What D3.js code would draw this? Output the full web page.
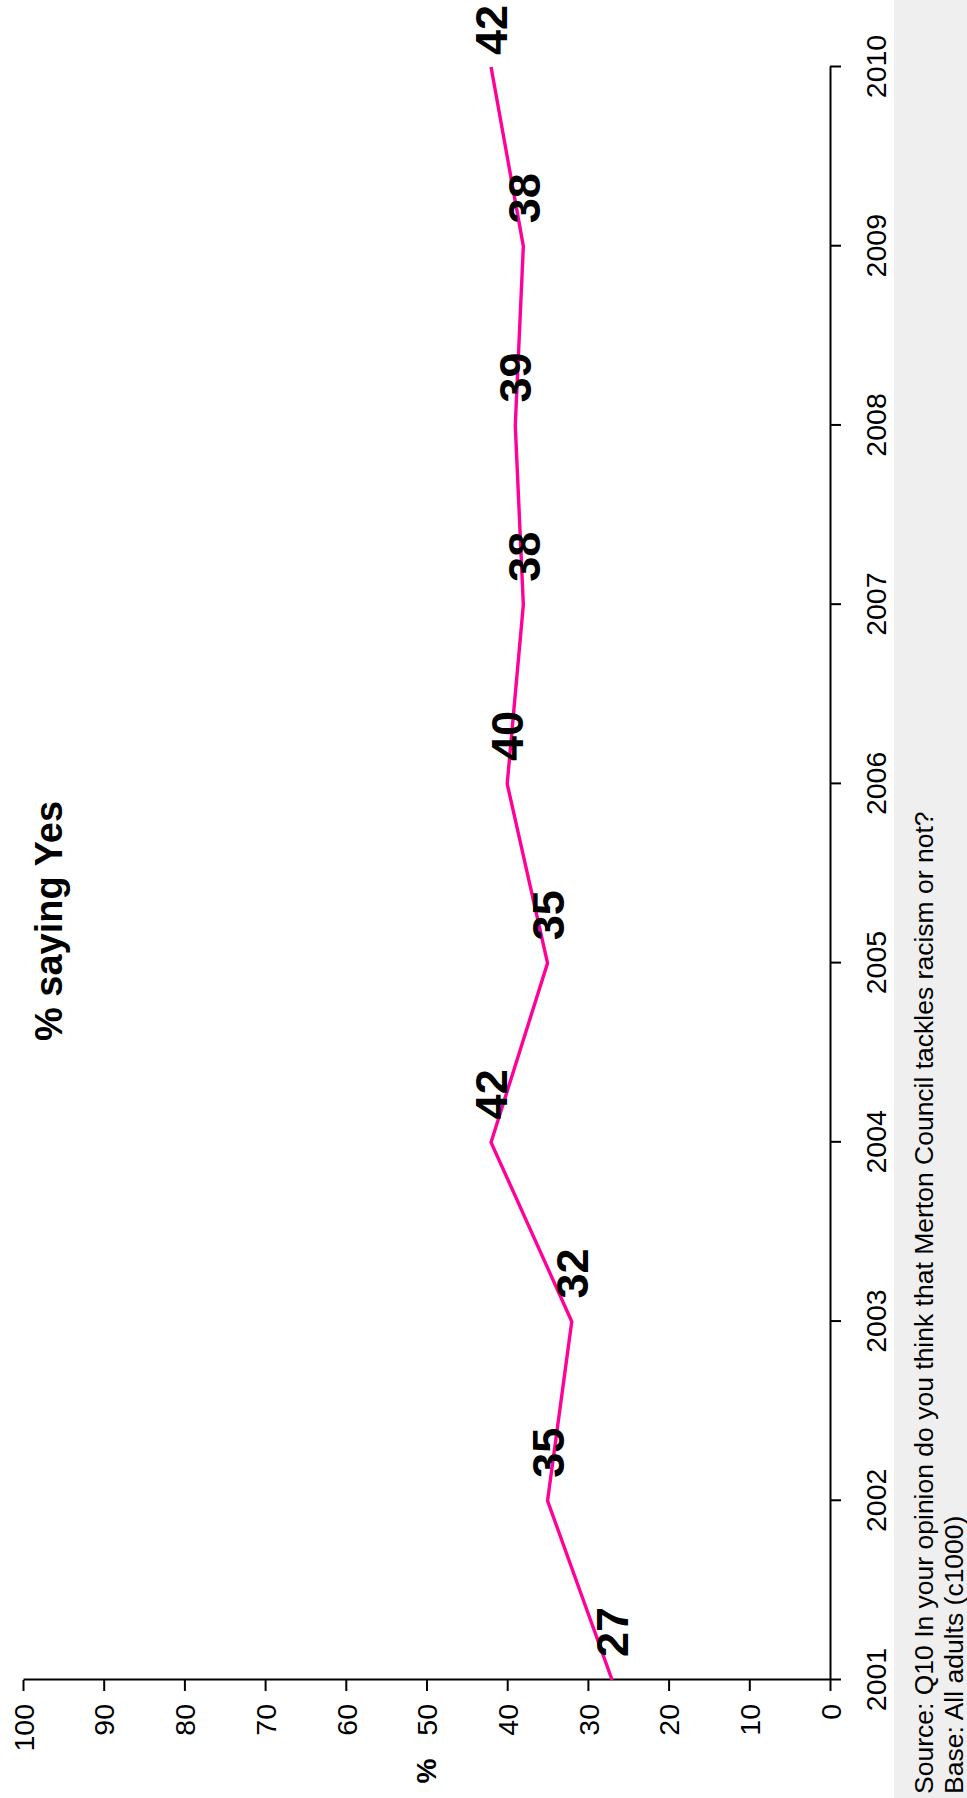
<!doctype html>
<html lang="en">
<head>
    <meta charset="utf-8"/>
    <title>% saying Yes</title>
    <style>
        body { margin: 0; background: #fff; }
        svg { display: block; }
    </style>
</head>
<body>
    <svg></svg>
    <script src="https://d3js.org/d3.v7.min.js"></script>
    <script>
        // chart data
        const years = [2001, 2002, 2003, 2004, 2005, 2006, 2007, 2008, 2009, 2010];
        const yesValues = [27, 35, 32, 42, 35, 40, 38, 39, 38, 42];
        const valueTicks = [0, 10, 20, 30, 40, 50, 60, 70, 80, 90, 100];
        const title = "% saying Yes";
        const valueLabel = "%";
        const sourceLines = [
            "Source: Q10 In your opinion do you think that Merton Council tackles racism or not?",
            "Base: All adults (c1000)"
        ];

        const pageW = 967, pageH = 1798;
        const font = "'Liberation Sans', Arial, Helvetica, sans-serif";

        const svg = d3.select("svg")
            .attr("width", pageW)
            .attr("height", pageH)
            .attr("viewBox", [0, 0, pageW, pageH])
            .style("font-family", font);

        // the whole chart is drawn lying on its side: build it upright, then turn it
        const g = svg.append("g")
            .attr("transform", `translate(0,${pageH}) rotate(-90)`);

        // grey footer band (right edge of the page)
        g.append("rect")
            .attr("x", 0)
            .attr("y", 894)
            .attr("width", pageH)
            .attr("height", pageW - 894)
            .attr("fill", "#efefef");

        g.selectAll("text.source")
            .data(sourceLines)
            .enter().append("text")
                .attr("class", "source")
                .attr("x", 4)
                .attr("y", (d, i) => 933 + i * 30)
                .attr("font-size", 26.5)
                .attr("fill", "#000")
                .text(d => d);

        const x = d3.scaleLinear()
            .domain([years[0], years[years.length - 1]])
            .range([118, 1731]);
        const y = d3.scaleLinear()
            .domain([0, 100])
            .range([830, 23]);

        // year axis
        const xAxis = g.append("g")
            .attr("transform", "translate(0,830)")
            .call(d3.axisBottom(x)
                .tickValues(years)
                .tickFormat(d3.format("d"))
                .tickSize(11)
                .tickPadding(30)
                .tickSizeOuter(0));
        xAxis.select(".domain").attr("stroke-width", 2);
        xAxis.selectAll(".tick line").attr("stroke-width", 2);
        xAxis.selectAll(".tick text")
            .attr("font-family", font)
            .attr("font-size", 28.5)
            .attr("dy", 0)
            .attr("y", 56);

        // value axis
        const yAxis = g.append("g")
            .attr("transform", "translate(118,0)")
            .call(d3.axisLeft(y)
                .tickValues(valueTicks)
                .tickSize(11)
                .tickPadding(13)
                .tickSizeOuter(0));
        yAxis.select(".domain").attr("stroke-width", 2);
        yAxis.selectAll(".tick line").attr("stroke-width", 2);
        yAxis.selectAll(".tick text")
            .attr("font-family", font)
            .attr("font-size", 28.5)
            .attr("dy", "0.36em");

        // line
        const line = d3.line()
            .x((d, i) => x(years[i]))
            .y(d => y(d));

        g.append("path")
            .datum(yesValues)
            .attr("fill", "none")
            .attr("stroke", "#ff0099")
            .attr("stroke-width", 3.4)
            .attr("stroke-linejoin", "miter")
            .attr("d", line);

        // data labels sit just after each point
        g.selectAll("text.val")
            .data(yesValues)
            .enter().append("text")
                .attr("class", "val")
                .attr("x", (d, i) => Math.min(x(years[i]) + 48, pageH - 30))
                .attr("y", d => y(d))
                .attr("dy", "0.36em")
                .attr("text-anchor", "middle")
                .attr("font-size", 45)
                .attr("font-weight", "bold")
                .text(d => d);

        // title and axis name
        g.append("text")
            .attr("x", 877)
            .attr("y", 62)
            .attr("text-anchor", "middle")
            .attr("font-size", 38)
            .attr("font-weight", "bold")
            .text(title);

        g.append("text")
            .attr("x", 27)
            .attr("y", 426)
            .attr("dy", "0.36em")
            .attr("text-anchor", "middle")
            .attr("font-size", 28)
            .attr("font-weight", "bold")
            .text(valueLabel);
    </script>
</body>
</html>
